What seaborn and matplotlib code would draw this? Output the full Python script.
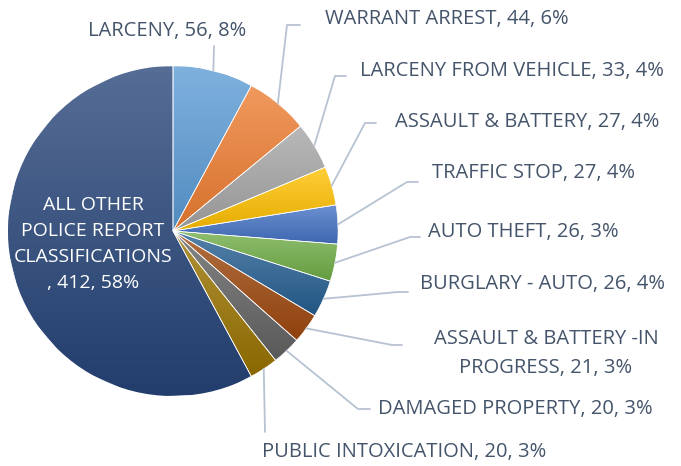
import numpy as np
import matplotlib
matplotlib.use("Agg")
import matplotlib.pyplot as plt
import seaborn as sns
from matplotlib.colors import to_rgb

# --- Data ---
categories = [
    "LARCENY", "WARRANT ARREST", "LARCENY FROM VEHICLE", "ASSAULT & BATTERY",
    "TRAFFIC STOP", "AUTO THEFT", "BURGLARY - AUTO",
    "ASSAULT & BATTERY -IN PROGRESS", "DAMAGED PROPERTY", "PUBLIC INTOXICATION",
    "ALL OTHER POLICE REPORT CLASSIFICATIONS",
]
counts = [56, 44, 33, 27, 27, 26, 26, 21, 20, 20, 412]
percents = [8, 6, 4, 4, 4, 3, 4, 3, 3, 3, 58]
colors = ["#5B9BD5", "#ED7D31", "#A5A5A5", "#FFC000", "#4472C4", "#70AD47",
          "#255E91", "#9E480E", "#636363", "#997300", "#264478"]

# --- Layout (pixel coords, y from top) ---
W, H = 681, 466
CX, CY, R = 173, 231, 165
TEXT_COLOR = "#44546A"
LINE_COLOR = "#B7C3D2"
# label anchor (x, y, ha), elbow points for leader lines
label_pos = [
    (167, 31, "center"), (325, 19, "left"), (360, 71, "left"), (395, 122, "left"),
    (432, 173, "left"), (428, 232, "left"), (420, 284, "left"), (546, 353, "center"),
    (378, 409, "left"), (262, 452, "left"), (93, 244, "center"),
]
elbows = [
    [(214, 46)],
    [(287, 25), (300, 25)],
    [(335, 76), (346, 76)],
    [(365, 123), (376, 123)],
    [(407, 182), (418, 182)],
    [(410, 237), (420, 237)],
    [(398, 292), (408, 292)],
    [(392, 345), (402, 345)],
    [(358, 409), (370, 409)],
    [(265, 432)],
    None,
]
wrap = {7: "ASSAULT & BATTERY -IN\nPROGRESS", 10: "ALL OTHER\nPOLICE REPORT\nCLASSIFICATIONS\n"}

sns.set_theme(style="white")
plt.rcParams['font.family'] = ['Open Sans', 'DejaVu Sans']

fig = plt.figure(figsize=(W / 100, H / 100), dpi=100)
ax = fig.add_axes([0, 0, 1, 1])

wedges, _ = ax.pie(counts, colors=colors, startangle=90, counterclock=False,
                   center=(CX, H - CY), radius=R,
                   wedgeprops=dict(edgecolor="white", linewidth=0.5))

# gradient shading per slice (lighter top, darker bottom)
for w, c in zip(wedges, colors):
    base = np.array(to_rgb(c))
    t = np.linspace(0, 1, 200)[:, None]
    top = base + (1 - base) * 0.22
    bot = base * 0.9
    img = (top[None, :] * (1 - t) + bot[None, :] * t)[:, None, :]
    bb = w.get_path().get_extents()
    im = ax.imshow(img, extent=(bb.x0, bb.x1, bb.y0, bb.y1), origin="upper",
                   aspect="auto", zorder=1.5, interpolation="bilinear")
    im.set_clip_path(w)
    w.set_zorder(1)

# white edges on top
for w in wedges:
    ax.add_patch(plt.Polygon(w.get_path().vertices, closed=True, fill=False,
                             edgecolor="white", linewidth=0.5, zorder=2))

for i, (w, cat, n, p) in enumerate(zip(wedges, categories, counts, percents)):
    name = wrap.get(i, cat)
    text = f"{name}, {n}, {p}%"
    x, y, ha = label_pos[i]
    inner = i == 10
    ax.text(x, H - y, text, ha=ha, va="center", fontsize=14 if inner else 14.5,
            color="white" if inner else TEXT_COLOR,
            linespacing=1.55 if inner else 1.6, zorder=4)
    if elbows[i] is not None:
        ang = np.deg2rad((w.theta1 + w.theta2) / 2)
        sx = CX + R * np.cos(ang)
        sy = (H - CY) + R * np.sin(ang)
        xs = [sx] + [e[0] for e in elbows[i]]
        ys = [sy] + [H - e[1] for e in elbows[i]]
        ax.plot(xs, ys, color=LINE_COLOR, linewidth=1.3, zorder=3)

ax.set_xlim(0, W)
ax.set_ylim(0, H)
ax.set_aspect("equal")
ax.axis("off")

plt.savefig("out.png", dpi=100)
plt.close()
